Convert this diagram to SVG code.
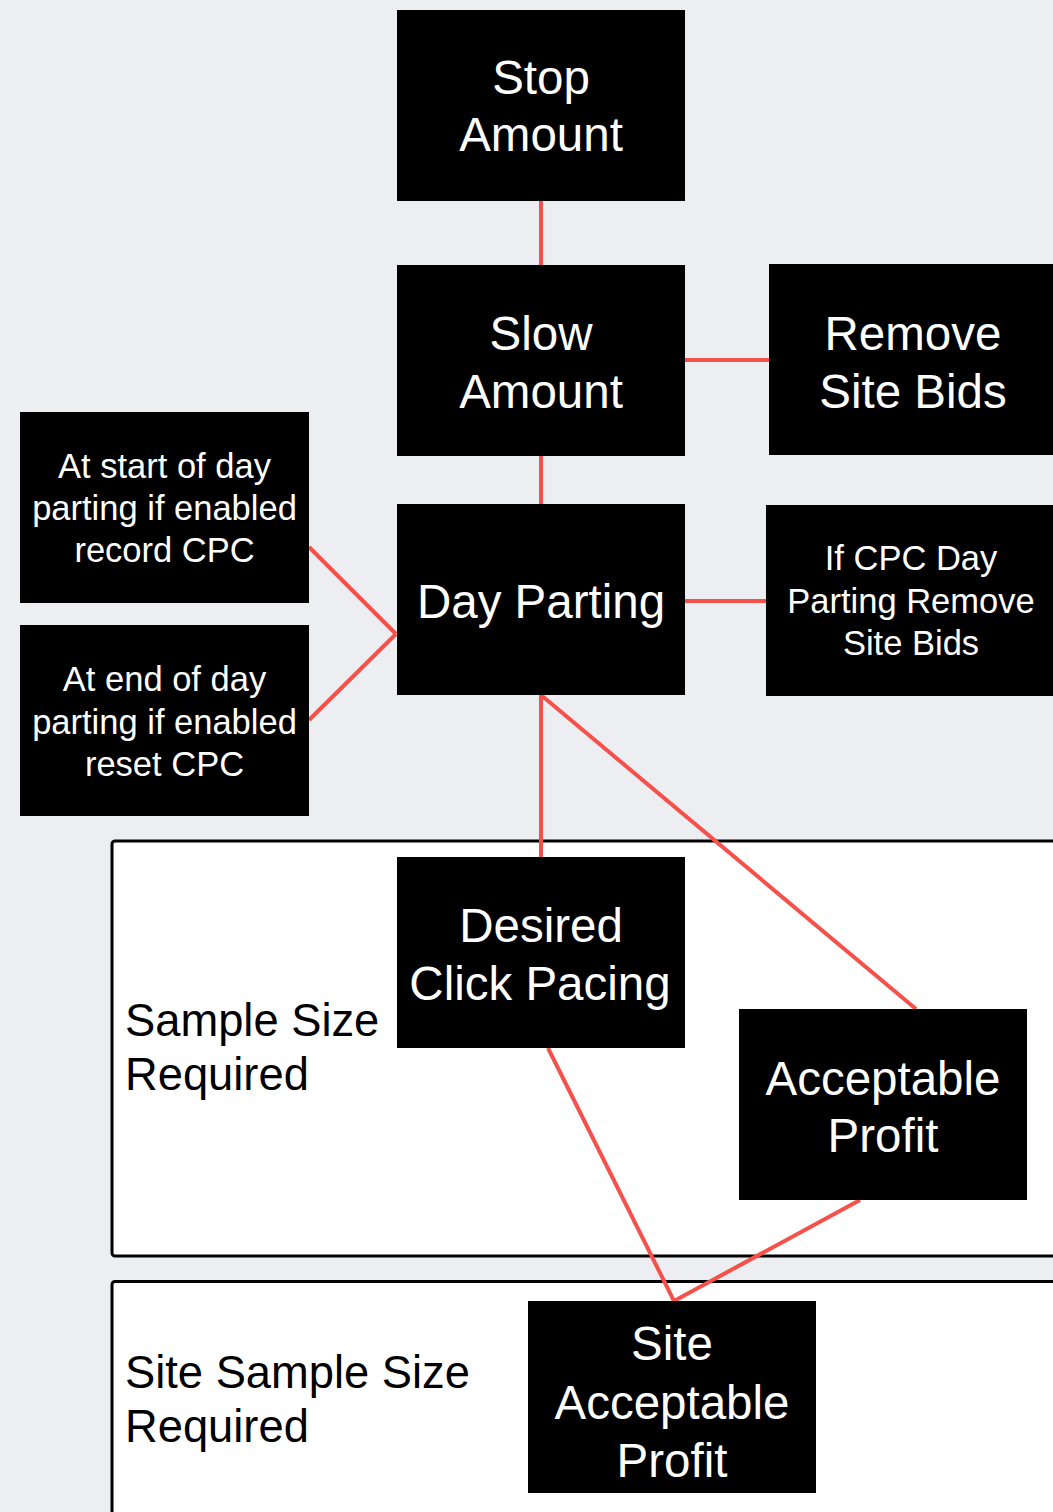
<svg xmlns="http://www.w3.org/2000/svg" width="1053" height="1512" viewBox="0 0 1053 1512">
<style>
.node{fill:#000}
.big{font-family:"Liberation Sans",Arial,sans-serif;font-size:47.5px;fill:#fff;text-anchor:middle}
.small{font-family:"Liberation Sans",Arial,sans-serif;font-size:34.5px;fill:#fff;text-anchor:middle}
.frame{fill:#fff;stroke:#000;stroke-width:3}
.flabel{font-family:"Liberation Sans",Arial,sans-serif;font-size:45.3px;fill:#000}
.conn line{stroke:#f5514a;stroke-width:4;stroke-linecap:butt}
</style>
<rect x="0" y="0" width="1053" height="1512" fill="#eceef2"/>
<g id="frame-sample-size">
<rect class="frame" x="112" y="841" width="1000" height="415" rx="3"/>
<text class="flabel" x="125" y="1036">Sample Size</text>
<text class="flabel" x="125" y="1090">Required</text>
</g>
<g id="frame-site-sample-size">
<rect class="frame" x="112" y="1281.5" width="1000" height="300" rx="3"/>
<text class="flabel" x="125" y="1388">Site Sample Size</text>
<text class="flabel" x="125" y="1442">Required</text>
</g>
<g id="connectors" class="conn">
<line x1="541" y1="201" x2="541" y2="265"/>
<line x1="685" y1="360" x2="769" y2="360"/>
<line x1="541" y1="456" x2="541" y2="504"/>
<line x1="309" y1="547" x2="396" y2="634"/>
<line x1="309" y1="720" x2="396" y2="634"/>
<line x1="685" y1="601" x2="766" y2="601"/>
<line x1="541" y1="695" x2="541" y2="857"/>
<line x1="541" y1="695" x2="916" y2="1009"/>
<line x1="548" y1="1048" x2="674" y2="1301"/>
<line x1="860" y1="1200" x2="674" y2="1301"/>
</g>
<g id="stop-amount">
<rect class="node" x="397" y="10" width="288" height="191"/>
<text class="big" x="541" y="94">Stop</text>
<text class="big" x="541" y="151">Amount</text>
</g>
<g id="slow-amount">
<rect class="node" x="397" y="265" width="288" height="191"/>
<text class="big" x="541" y="350">Slow</text>
<text class="big" x="541" y="408">Amount</text>
</g>
<g id="remove-site-bids">
<rect class="node" x="769" y="264" width="288" height="191"/>
<text class="big" x="913" y="350">Remove</text>
<text class="big" x="913" y="408">Site Bids</text>
</g>
<g id="start-day-parting">
<rect class="node" x="20" y="412" width="289" height="191"/>
<text class="small" x="164.5" y="478">At start of day</text>
<text class="small" x="164.5" y="520">parting if enabled</text>
<text class="small" x="164.5" y="562">record CPC</text>
</g>
<g id="end-day-parting">
<rect class="node" x="20" y="625" width="289" height="191"/>
<text class="small" x="164.5" y="691">At end of day</text>
<text class="small" x="164.5" y="734">parting if enabled</text>
<text class="small" x="164.5" y="776">reset CPC</text>
</g>
<g id="day-parting">
<rect class="node" x="397" y="504" width="288" height="191"/>
<text class="big" x="541" y="618">Day Parting</text>
</g>
<g id="cpc-day-parting">
<rect class="node" x="766" y="505" width="290" height="191"/>
<text class="small" x="911" y="570">If CPC Day</text>
<text class="small" x="911" y="613">Parting Remove</text>
<text class="small" x="911" y="655">Site Bids</text>
</g>
<g id="desired-click-pacing">
<rect class="node" x="397" y="857" width="288" height="191"/>
<text class="big" x="541" y="942">Desired</text>
<text class="big" x="540" y="1000">Click Pacing</text>
</g>
<g id="acceptable-profit">
<rect class="node" x="739" y="1009" width="288" height="191"/>
<text class="big" x="883" y="1095">Acceptable</text>
<text class="big" x="883" y="1152">Profit</text>
</g>
<g id="site-acceptable-profit">
<rect class="node" x="528" y="1301" width="288" height="192"/>
<text class="big" x="672" y="1360">Site</text>
<text class="big" x="672" y="1419">Acceptable</text>
<text class="big" x="672" y="1477">Profit</text>
</g>
</svg>
